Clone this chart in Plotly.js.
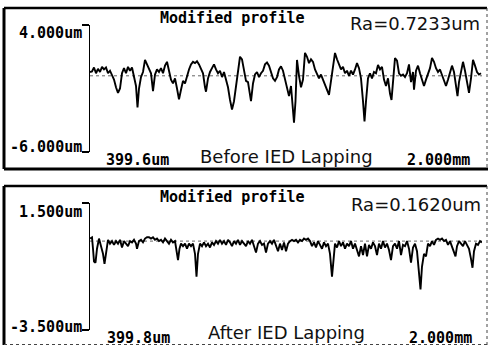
<!DOCTYPE html>
<html>
<head>
<meta charset="utf-8">
<script src="https://cdn.plot.ly/plotly-3.0.1.min.js"></script>
<style>
  html, body { margin: 0; padding: 0; background: #ffffff; }
  #chart { width: 490px; height: 346px; }
</style>
</head>
<body>
<div id="chart"></div>
<script>
// ---- Data (position along trace in um, height in um) ----
var beforeX = [0,10,20,30,40,50,60,70,80,90,100,110,120,130,140,150,160,170,180,190,200,210,220,230,237.5,245,255,265,275,285,295,305,315,325,335,345,355,365,375,385,395,405,415,425,435,445,455,465,475,485,495,505,515,525,535,545,555,565,575,580,590,600,610,620,630,640,650,660,670,680,690,700,710,720,730,740,750,760,770,780,790,800,805,815,825,835,845,855,865,875,885,895,905,915,925,935,945,955,965,975,985,995,1005,1015,1020,1027.5,1035,1045,1055,1065,1075,1085,1095,1105,1115,1125,1135,1145,1155,1165,1175,1185,1195,1205,1215,1225,1235,1245,1255,1265,1275,1285,1295,1305,1315,1325,1335,1345,1355,1365,1372.5,1380,1390,1400,1410,1420,1430,1440,1450,1460,1470,1480,1490,1500,1507.5,1515,1525,1535,1545,1555,1565,1575,1585,1595,1605,1615,1620,1630,1640,1650,1660,1670,1680,1690,1700,1710,1720,1730,1740,1750,1760,1770,1780,1790,1800,1810,1820,1830,1837.5,1845,1855,1865,1875,1885,1895,1905,1915,1925,1935,1945,1955];
var beforeY = [0.3,0.35,0.65,0.2,0.55,0.3,0.7,0.5,0.65,0.2,0.4,0.1,-0.3,-0.9,-1.35,-1.0,0.2,0.6,0.2,0.7,0.4,0.65,0.0,-0.8,-2.5,-1.0,-0.1,0.3,1.25,0.9,0.6,0.2,-1.2,0.1,0.5,0.3,0.6,0.2,0.8,1.1,0.4,-0.3,-0.6,-0.2,-1.0,-1.85,-1.1,-0.4,-0.6,0.0,0.5,0.9,1.1,1.0,1.15,0.9,0.5,0.2,-0.9,-1.25,-0.2,0.3,0.6,0.9,0.5,0.2,0.4,-0.1,0.3,-0.3,-0.9,-1.9,-2.65,-2.0,-0.8,0.4,1.5,1.3,0.3,-0.4,-0.5,-1.4,-2.0,-0.6,0.1,0.3,-0.1,0.2,0.4,0.9,1.05,0.8,0.2,-0.2,-0.4,-0.1,0.5,0.75,0.4,-0.2,-0.9,-1.6,-0.8,-2.5,-3.7,-2.0,1.25,0.0,-0.9,-0.3,1.8,1.5,1.0,1.3,1.1,0.5,0.2,-0.2,0.1,-0.3,-0.6,-1.0,-1.5,-0.4,0.6,1.8,1.3,0.9,0.5,0.7,0.2,0.4,0.0,0.4,0.1,0.5,1.0,0.6,-0.2,-2.0,-3.6,-2.0,-0.2,0.2,-0.2,0.3,0.2,0.85,0.5,0.7,-0.3,-0.8,-0.2,-1.4,-1.9,-0.5,1.4,1.2,0.2,0.0,0.1,-0.1,0.2,0.9,-0.5,0.3,-1.1,0.4,0.8,0.2,-0.3,-0.8,-0.3,0.2,0.6,1.4,1.1,0.6,0.3,0.5,0.1,-0.4,-0.8,-0.3,0.2,0.8,0.3,-0.8,-1.6,-0.5,0.4,1.1,0.4,-0.5,-1.35,-0.2,1.25,0.8,0.3,0.1,0.2];

var afterX = [0,10,15,20,27.5,35,45,55,65,72.5,80,90,100,110,120,130,140,150,160,170,180,190,200,210,220,230,235,245,255,265,275,285,295,305,315,325,335,345,355,365,375,385,395,405,415,425,435,440,447.5,455,465,475,485,495,505,515,525,532.5,540,550,560,570,580,590,600,610,620,630,640,650,660,670,680,690,700,710,720,730,740,750,760,770,780,790,800,810,820,830,840,850,860,870,880,890,900,910,920,930,940,950,960,970,980,990,1000,1010,1020,1030,1040,1050,1060,1070,1080,1090,1100,1110,1120,1130,1140,1150,1160,1170,1180,1190,1200,1210,1217.5,1225,1235,1245,1255,1265,1275,1285,1295,1305,1315,1325,1335,1345,1355,1365,1375,1385,1395,1405,1415,1425,1435,1445,1455,1465,1475,1485,1495,1505,1515,1525,1535,1545,1555,1565,1575,1585,1595,1605,1615,1625,1635,1645,1652.5,1660,1670,1680,1690,1700,1710,1720,1730,1740,1750,1760,1770,1780,1790,1800,1810,1820,1827.5,1835,1845,1855,1865,1875,1885,1895,1905,1912.5,1920,1930,1940,1950,1960];
var afterY = [0.1,0.15,-0.3,-0.8,-0.85,-0.3,0.1,-0.2,-0.5,-0.9,-0.4,0.05,-0.1,0.0,-0.15,0.0,-0.1,0.05,-0.25,0.0,-0.1,-0.2,0.0,-0.05,0.05,-0.1,-0.3,0.0,0.05,-0.05,0.1,0.15,0.15,0.1,0.15,0.05,0.1,0.0,0.05,-0.05,0.1,0.0,-0.1,0.05,-0.05,0.0,-0.4,-0.75,-0.3,-0.1,-0.2,-0.1,-0.3,-0.1,-0.2,-0.1,-0.5,-1.4,-0.5,-0.1,-0.2,-0.05,-0.2,-0.1,-0.25,-0.05,-0.15,0.0,-0.1,0.05,-0.1,0.0,-0.15,0.05,-0.05,-0.2,0.0,-0.1,0.05,-0.15,0.0,-0.1,-0.2,0.0,-0.1,0.05,-0.2,-0.45,-0.1,0.0,-0.15,-0.1,-0.45,-0.1,0.0,-0.1,0.05,-0.2,-0.4,-0.1,-0.35,-0.05,-0.4,-0.1,0.0,0.05,0.0,0.05,-0.05,0.05,0.0,0.1,0.05,0.1,0.0,-0.2,-0.05,-0.25,0.0,-0.15,-0.3,-0.05,-0.2,-0.1,-0.5,-1.4,-0.6,-0.1,-0.25,0.0,-0.2,-0.05,-0.3,-0.1,-0.2,0.0,-0.3,-0.1,-0.35,-0.6,-0.2,-0.55,-0.1,-0.6,-0.15,-0.3,-0.05,-0.2,-0.55,-0.1,-0.3,0.0,-0.25,-0.1,-0.35,-0.75,-0.2,-0.1,-0.3,0.0,-0.55,-0.15,-0.2,0.0,-0.3,-0.85,-0.25,-0.1,-0.4,-1.2,-1.9,-1.0,-0.5,-0.6,-0.1,-0.2,0.0,-0.15,0.05,0.1,0.05,0.1,0.0,0.05,-0.15,0.0,-0.2,-0.4,-0.6,-0.2,0.0,-0.1,-0.2,0.0,-0.15,-0.3,-0.7,-1.05,-0.4,-0.1,-0.15,0.0,-0.05];

var beforeRange = [-6, 4];
var afterRange = [-3.5, 1.5];
var beforeTickText = ["-6.000um", "4.000um"];
var afterTickText = ["-3.500um", "1.500um"];
var raBefore = "Ra=0.7233um";
var raAfter = "Ra=0.1620um";
var panelTitle = "Modified profile";
var captionBefore = "Before IED Lapping";
var captionAfter = "After IED Lapping";
var startBefore = "399.6um";
var startAfter = "399.8um";
var lengthLabel = "2.000mm";

// ---- Geometry (pixels of 490x346 canvas) ----
var W = 490, H = 346;
function px(x) { return x / W; }
function py(y) { return 1 - y / H; }

var xDomain = [px(90), px(482)];
var topDomain = [py(152), py(25)];
var botDomain = [py(330), py(203)];

var traces = [
  { x: beforeX, y: beforeY, xaxis: 'x', yaxis: 'y', type: 'scatter', mode: 'lines',
    line: { color: '#000000', width: 1.9 }, hoverinfo: 'skip' },
  { x: afterX, y: afterY, xaxis: 'x2', yaxis: 'y2', type: 'scatter', mode: 'lines',
    line: { color: '#000000', width: 1.9 }, hoverinfo: 'skip' }
];

function yAxis(range, vals, domain) {
  return {
    domain: domain, range: range, showgrid: false, zeroline: false,
    showline: true, linecolor: '#000', linewidth: 1.5,
    ticks: 'outside', ticklen: 7, tickwidth: 1.5, tickcolor: '#000',
    tickvals: vals, showticklabels: false, fixedrange: true
  };
}
function xAxis(domain, anchor) {
  return { domain: domain, range: [0, 1960], visible: false, anchor: anchor, fixedrange: true };
}

var monoBold = { family: 'DejaVu Sans Mono', size: 15, color: '#000' };
var sans = { family: 'DejaVu Sans', size: 18, color: '#111' };

function ann(text, x, y, font, xanchor) {
  return { text: text, x: px(x), y: py(y), xref: 'paper', yref: 'paper',
           showarrow: false, font: font, xanchor: xanchor || 'center', yanchor: 'middle' };
}

var annotations = [
  ann('<b>' + panelTitle + '</b>', 232, 18, monoBold),
  ann(raBefore, 415, 24, sans),
  ann('<b>' + beforeTickText[1] + '</b>', 84, 33, monoBold, 'right'),
  ann('<b>' + beforeTickText[0] + '</b>', 84, 147, monoBold, 'right'),
  ann('<b>' + startBefore + '</b>', 137, 160, monoBold),
  ann(captionBefore, 286, 156, sans),
  ann('<b>' + lengthLabel + '</b>', 438, 160, monoBold),

  ann('<b>' + panelTitle + '</b>', 232, 197, monoBold),
  ann(raAfter, 416, 204, sans),
  ann('<b>' + afterTickText[1] + '</b>', 84, 212, monoBold, 'right'),
  ann('<b>' + afterTickText[0] + '</b>', 84, 327, monoBold, 'right'),
  ann('<b>' + startAfter + '</b>', 138, 338, monoBold),
  ann(captionAfter, 286, 332, sans),
  ann('<b>' + lengthLabel + '</b>', 440, 338, monoBold)
];

function pline(x0, y0, x1, y1, w, dash, color) {
  return { type: 'line', xref: 'paper', yref: 'paper', x0: px(x0), y0: py(y0), x1: px(x1), y1: py(y1),
           line: { color: color || '#000', width: w, dash: dash || 'solid' }, layer: 'above' };
}

var shapes = [
  // top frame
  pline(4, 8, 487, 8, 2.5),
  pline(4, 8, 4, 169, 3),
  pline(4, 169, 488, 169, 3),
  pline(487, 8, 487, 169, 1, 'dot', '#444'),
  // bottom frame
  pline(4, 186, 487, 186, 2.5),
  pline(4, 186, 4, 345, 3),
  pline(4, 344.5, 488, 344.5, 1, 'dot', '#444'),
  pline(487, 186, 487, 345, 1, 'dot', '#444'),
  // zero reference lines
  { type: 'line', xref: 'x', yref: 'y', x0: 0, x1: 1960, y0: 0, y1: 0,
    line: { color: '#666', width: 1, dash: 'dot' }, layer: 'below' },
  { type: 'line', xref: 'x2', yref: 'y2', x0: 0, x1: 1960, y0: 0, y1: 0,
    line: { color: '#666', width: 1, dash: 'dot' }, layer: 'below' }
];

var layout = {
  width: W, height: H,
  margin: { l: 0, r: 0, t: 0, b: 0, pad: 0 },
  paper_bgcolor: '#ffffff', plot_bgcolor: 'rgba(0,0,0,0)',
  showlegend: false,
  xaxis: xAxis(xDomain, 'y'),
  yaxis: yAxis(beforeRange, beforeRange, topDomain),
  xaxis2: xAxis(xDomain, 'y2'),
  yaxis2: yAxis(afterRange, afterRange, botDomain),
  annotations: annotations,
  shapes: shapes
};
layout.yaxis.anchor = 'x';
layout.yaxis2.anchor = 'x2';

Plotly.newPlot('chart', traces, layout, { staticPlot: true, displayModeBar: false });
</script>
</body>
</html>
